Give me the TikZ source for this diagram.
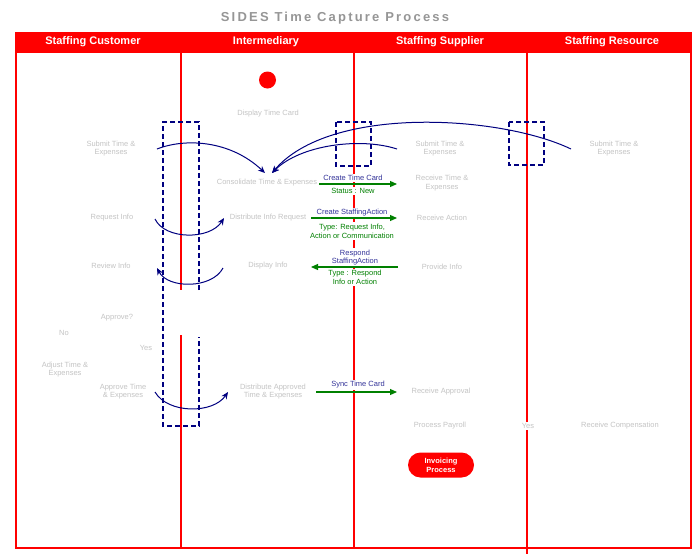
\documentclass[tikz,border=0pt]{standalone}
\usepackage{fontspec}
\setmainfont{Liberation Sans}
\usetikzlibrary{arrows.meta,shapes.misc}
\definecolor{lanered}{RGB}{255,0,0}
\definecolor{flownavy}{RGB}{0,0,128}
\definecolor{msgblue}{RGB}{51,51,153}
\definecolor{msggreen}{RGB}{0,128,0}
\definecolor{ghost}{RGB}{196,196,196}
\definecolor{ghosttitle}{RGB}{150,150,150}
\begin{document}
\begin{tikzpicture}[x=1pt,y=-1pt,
  ghosttext/.style={text=ghost, font=\fontsize{7.5}{8.8}\selectfont, align=center, inner sep=1pt},
  lanehead/.style={text=white, font=\bfseries\fontsize{11}{12}\selectfont, inner sep=0pt},
  lane/.style={draw=lanered, line width=2pt},
  dashbox/.style={draw=flownavy, dash pattern=on 5pt off 3pt, line width=1.3pt},
  flow/.style={draw=flownavy, line width=1pt, -{Stealth[length=7pt,width=6pt]}},
  msg/.style={draw=msggreen, line width=1.2pt, -{Triangle[length=7pt,width=6pt]}},
  msgtop/.style={text=msgblue, font=\fontsize{7.5}{8.8}\selectfont, fill=white, inner xsep=1pt, inner ysep=1.5pt, align=center},
  msgbot/.style={text=msggreen, font=\fontsize{7.5}{8.8}\selectfont, fill=white, inner xsep=1pt, inner ysep=1.5pt, align=center},
  endbox/.style={rounded rectangle, fill=lanered, text=white, font=\bfseries\fontsize{7.5}{8.8}\selectfont, align=center, minimum width=68pt, minimum height=25pt, inner sep=1pt},
  startdot/.style={circle, fill=lanered, minimum size=17pt, inner sep=0pt}
]
\useasboundingbox (0,0) rectangle (696,558);
\fill[white] (0,0) rectangle (696,558);

% title
\node[text=ghosttitle, font={\bfseries\addfontfeatures{LetterSpace=17}\fontsize{13}{15}\selectfont}] (title) at (335,18) {SIDES Time Capture Process};

% pool and lanes
\fill[lanered] (16,33) rectangle (691,53);
\draw[lane] (16,33) rectangle (691,548);
\draw[lane] (181,53) -- (181,290);
\draw[lane] (181,335) -- (181,548);
\draw[lane] (354,53) -- (354,548);
\draw[lane] (527,53) -- (527,554);

\node[lanehead] (hcust) at (93,42) {Staffing Customer};
\node[lanehead] (hint) at (266,42) {Intermediary};
\node[lanehead] (hsup) at (440,42) {Staffing Supplier};
\node[lanehead] (hres) at (612,42) {Staffing Resource};

% dashed boxes
\draw[dashbox] (199,290) -- (199,122) -- (163,122) -- (163,426) -- (199,426) -- (199,337);
\draw[dashbox] (336,122) rectangle (371,166);
\draw[dashbox] (509,122) rectangle (544,165);

% start
\node[startdot] (start) at (267.5,80) {};

% activity texts
\node[ghosttext] (disptc) at (268,114) {Display Time Card};
\node[ghosttext] (custsub) at (111,148.5) {Submit Time \&\\Expenses};
\node[ghosttext] (supsub) at (440,148.5) {Submit Time \&\\Expenses};
\node[ghosttext] (ressub) at (614,148.5) {Submit Time \&\\Expenses};
\node[ghosttext] (consol) at (267,183) {Consolidate Time \& Expenses};
\node[ghosttext] (recvte) at (442,183) {Receive Time \&\\Expenses};
\node[ghosttext] (reqinfo) at (112,218) {Request Info};
\node[ghosttext] (distreq) at (268,218) {Distribute Info Request};
\node[ghosttext] (recvact) at (442,218) {Receive Action};
\node[ghosttext] (revinfo) at (111,266) {Review Info};
\node[ghosttext] (dispinfo) at (268,266) {Display Info};
\node[ghosttext] (provinfo) at (442,267) {Provide Info};
\node[ghosttext] (apprq) at (117,318) {Approve?};
\node[ghosttext] (no) at (64,333) {No};
\node[ghosttext] (yes1) at (146,348) {Yes};
\node[ghosttext] (adjust) at (65,369.5) {Adjust Time \&\\Expenses};
\node[ghosttext] (apprte) at (123,391.5) {Approve Time\\\& Expenses};
\node[ghosttext] (distappr) at (273,391.5) {Distribute Approved\\Time \& Expenses};
\node[ghosttext] (recvappr) at (441,392) {Receive Approval};
\node[ghosttext] (payroll) at (440,426) {Process Payroll};
\node[ghosttext, fill=white] (yes2) at (528,426) {Yes};
\node[ghosttext] (recvcomp) at (620,426) {Receive Compensation};

\node[endbox] (invoice) at (441,465) {Invoicing\\Process};

% curve end points
\coordinate (c1s) at (157,149);
\coordinate (c2s) at (397,149);
\coordinate (c3s) at (571,149);
\coordinate (cL) at (265,173);
\coordinate (cR) at (272,173);
\coordinate (c4s) at (155,219);
\coordinate (c4e) at (224,218);
\coordinate (c5s) at (223,268);
\coordinate (c5e) at (157,268);
\coordinate (c6s) at (155,392);
\coordinate (c6e) at (228,392);

\draw[flow] (c1s) .. controls +(28,-11) and +(-35,-33) .. (cL);
\draw[flow] (c2s) .. controls +(-37,-12) and +(28,-28) .. (cR);
\draw[flow] (c3s) .. controls +(-71,-34) and +(58,-68) .. (cR);
\draw[flow] (c4s) .. controls +(10,21) and +(-14,22) .. (c4e);
\draw[flow] (c5s) .. controls +(-11,21) and +(11,21) .. (c5e);
\draw[flow] (c6s) .. controls +(13,22) and +(-15,22) .. (c6e);

% messages
\node[msgtop] (m1t) at (353,178) {Create Time Card};
\node[msgbot] (m1b) at (353,191) {Status : New};
\coordinate (m1s) at (319,184);
\coordinate (m1e) at (397,184);
\draw[msg] (m1s) -- (m1e);

\node[msgtop] (m2t) at (352,212.5) {Create StaffingAction};
\node[msgbot] (m2b) at (352,231) {Type: Request Info,\\Action or Communication};
\coordinate (m2s) at (311,218);
\coordinate (m2e) at (397,218);
\draw[msg] (m2s) -- (m2e);

\node[msgtop] (m3t) at (355,257.5) {Respond\\StaffingAction};
\node[msgbot] (m3b) at (355,277.5) {Type : Respond\\Info or Action};
\coordinate (m3s) at (398,267);
\coordinate (m3e) at (311,267);
\draw[msg] (m3s) -- (m3e);

\node[msgtop] (m4t) at (358,385) {Sync Time Card};
\coordinate (m4s) at (316,392);
\coordinate (m4e) at (397,392);
\draw[msg] (m4s) -- (m4e);
\end{tikzpicture}
\end{document}
